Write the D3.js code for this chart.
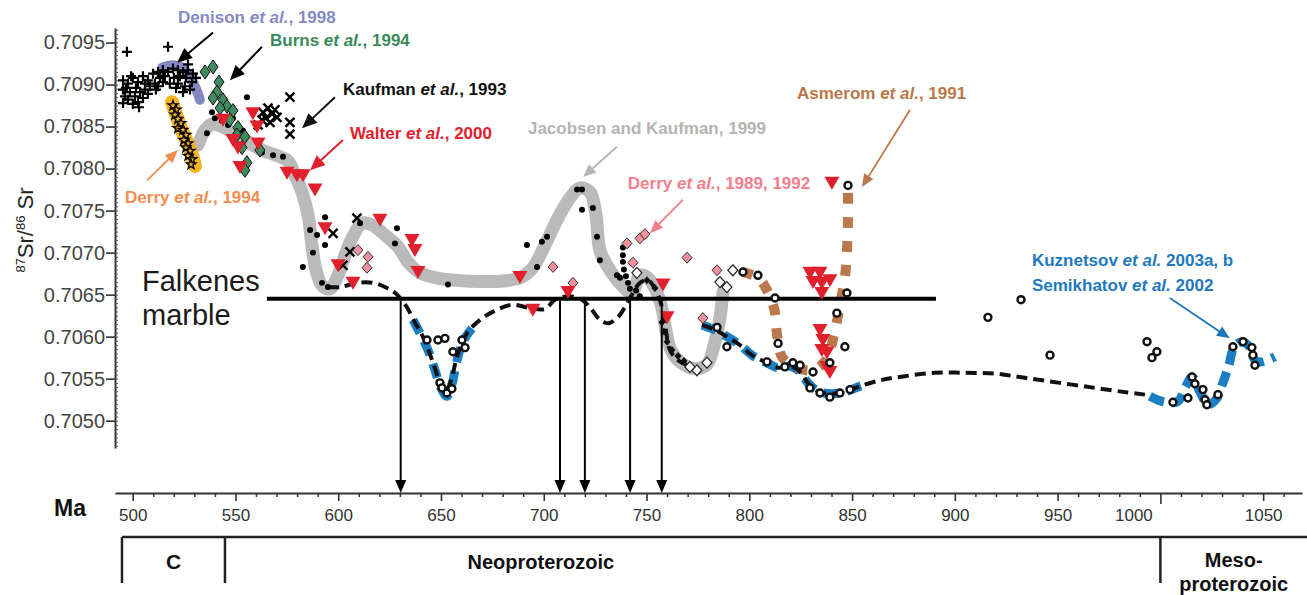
<!DOCTYPE html>
<html><head><meta charset="utf-8">
<script src="https://cdn.jsdelivr.net/npm/d3@7"></script>
<style>
html,body{margin:0;padding:0;background:#fff;}
svg{display:block;font-family:"Liberation Sans",Arial,sans-serif;}
</style></head><body>
<svg id="c" width="1307" height="595"></svg>
<script>
// ---------------- DATA (Ma, 87Sr/86Sr) ----------------
const xTicks = [500,550,600,650,700,750,800,850,900,950,1000,1050];
const yTicks = [0.7050,0.7055,0.7060,0.7065,0.7070,0.7075,0.7080,0.7085,0.7090,0.7095];
const eraEdges = [494.8, 544.9, 1000];

const plusPts = [[497.2,0.70939],[517.2,0.70945],[495.3,0.70905],[497.7,0.70901],[500.1,0.70908],[502.6,0.70903],[505.0,0.70910],[507.4,0.70905],[509.9,0.70913],[512.3,0.70915],[514.7,0.70917],[517.2,0.70915],[519.6,0.70919],[522.0,0.70917],[524.5,0.70915],[526.9,0.70917],[529.3,0.70913],[525.9,0.70908],[523.0,0.70910],[520.1,0.70908],[513.3,0.70908],[508.4,0.70898],[506.0,0.70894],[503.6,0.70891],[501.1,0.70886],[498.7,0.70891],[496.3,0.70886],[495.3,0.70894],[497.7,0.70882],[500.1,0.70877],[502.6,0.70879],[505.0,0.70884],[507.4,0.70889],[510.8,0.70901],[514.7,0.70903],[518.1,0.70901],[522.0,0.70901],[525.4,0.70898],[528.8,0.70903],[530.8,0.70908],[527.9,0.70894],[524.5,0.70891],[521.1,0.70896],[496.7,0.70896],[501.6,0.70896],[511.3,0.70894],[515.7,0.70910],[506.0,0.70901],[495.3,0.70878],[503.1,0.70873],[499.2,0.70910],[512.3,0.70898],[526.9,0.70924]];
const starPts = [[519.6,0.70875],[521.1,0.70870],[520.6,0.70864],[522.0,0.70859],[523.5,0.70854],[522.0,0.70848],[524.5,0.70846],[525.9,0.70840],[524.9,0.70834],[526.9,0.70830],[525.9,0.70825],[527.9,0.70821],[526.9,0.70815],[528.8,0.70811],[528.4,0.70805]];
const derry94Band = [[519.1,0.70879],[521.1,0.70864],[523.5,0.70848],[526.4,0.70832],[528.8,0.70816],[530.3,0.70803]];
const denisonBand = [[514.3,0.70920],[519.1,0.70923],[524.0,0.70920],[527.9,0.70909],[530.8,0.70895],[532.7,0.70882]];
const jkBand = [[531.8,0.70828],[535.2,0.70846],[538.6,0.70853],[543.4,0.70850],[549.8,0.70841],[557.1,0.70830],[562.9,0.70822],[570.7,0.70815],[575.6,0.70809],[579.0,0.70792],[582.4,0.70772],[585.3,0.70745],[587.2,0.70709],[589.2,0.70679],[592.1,0.70661],[596.0,0.70657],[599.9,0.70673],[603.3,0.70697],[606.7,0.70717],[611.6,0.70735],[616.4,0.70733],[622.7,0.70721],[629.1,0.70707],[633.9,0.70689],[639.8,0.70676],[649.5,0.70669],[664.1,0.70666],[678.7,0.70666],[688.4,0.70670],[694.7,0.70682],[700.6,0.70709],[706.9,0.70741],[712.7,0.70765],[717.6,0.70777],[722.5,0.70772],[725.4,0.70745],[727.3,0.70703],[732.2,0.70679],[738.0,0.70661],[742.9,0.70652],[746.8,0.70673],[750.7,0.70670],[754.6,0.70655],[757.5,0.70634],[759.4,0.70608],[761.9,0.70584],[766.3,0.70570],[773.6,0.70562],[779.4,0.70567],[783.3,0.70594],[785.7,0.70622],[787.2,0.70653]];
const jkDots = [[536.1,0.70842],[538.6,0.70867],[555.6,0.70885],[562.9,0.70819],[568.3,0.70816],[573.1,0.70814],[540.0,0.70860],[543.4,0.70857],[546.4,0.70852],[548.8,0.70860],[551.2,0.70848],[553.7,0.70845],[593.6,0.70742],[586.3,0.70727],[589.7,0.70721],[593.6,0.70709],[587.7,0.70700],[582.8,0.70683],[592.1,0.70664],[595.0,0.70659],[610.6,0.70735],[627.6,0.70711],[628.6,0.70729],[653.4,0.70662],[691.8,0.70709],[696.7,0.70683],[699.1,0.70713],[701.6,0.70719],[716.2,0.70775],[718.6,0.70775],[718.6,0.70751],[723.9,0.70753],[725.9,0.70719],[727.3,0.70691],[735.6,0.70673],[737.1,0.70670],[738.5,0.70706],[738.5,0.70697],[738.5,0.70689],[739.0,0.70680],[740.0,0.70672],[741.0,0.70664],[741.9,0.70657],[744.9,0.70655],[746.8,0.70648]];
const burnsPts = [[535.2,0.70915],[539.1,0.70921],[542.0,0.70903],[541.0,0.70891],[539.1,0.70884],[543.9,0.70882],[545.9,0.70874],[548.8,0.70869],[542.5,0.70872],[547.3,0.70858],[551.2,0.70849],[550.7,0.70840],[554.6,0.70838],[553.2,0.70825],[555.6,0.70807],[554.6,0.70798],[561.9,0.70822]];
const kaufmanPts = [[576.5,0.70885],[576.5,0.70855],[576.5,0.70841],[563.4,0.70867],[565.8,0.70872],[567.8,0.70865],[564.8,0.70860],[569.2,0.70870],[566.8,0.70855],[562.9,0.70858],[570.2,0.70861],[561.0,0.70852],[609.1,0.70741],[597.5,0.70723],[605.7,0.70701],[602.3,0.70685]];
const walterPts = [[543.9,0.70858],[548.8,0.70834],[552.2,0.70802],[558.5,0.70866],[560.5,0.70850],[561.0,0.70830],[551.2,0.70825],[575.1,0.70795],[579.9,0.70792],[582.9,0.70792],[588.7,0.70775],[593.6,0.70729],[599.9,0.70685],[607.2,0.70664],[620.3,0.70739],[635.9,0.70715],[637.3,0.70703],[638.8,0.70677],[688.4,0.70671],[711.8,0.70653],[694.7,0.70632],[758.0,0.70662],[760.0,0.70623],[829.5,0.70676],[834.4,0.70676],[831.0,0.70665],[835.3,0.70664],[839.2,0.70667],[835.3,0.70652],[834.4,0.70608],[835.8,0.70596],[835.3,0.70584],[837.8,0.70581],[837.8,0.70564],[839.2,0.70558],[840.2,0.70783]];
const derry89Pts = [[609.6,0.70703],[614.5,0.70695],[614.0,0.70682],[704.5,0.70683],[714.2,0.70664],[740.5,0.70711],[746.8,0.70717],[749.2,0.70722],[743.4,0.70688],[769.7,0.70694],[784.3,0.70679],[777.4,0.70622]];
const openDiamondPts = [[792.0,0.70679],[785.7,0.70665],[789.1,0.70659],[745.3,0.70676],[774.5,0.70560],[779.4,0.70569],[771.1,0.70564]];
const blackDiamondPts = [[750.2,0.70667],[754.1,0.70658],[757.5,0.70617],[758.5,0.70606],[760.0,0.70594],[762.4,0.70584],[765.3,0.70577],[768.2,0.70571]];
const kuzCircles = [[643.2,0.70596],[648.5,0.70596],[651.9,0.70598],[655.8,0.70582],[660.2,0.70596],[661.7,0.70587],[649.5,0.70545],[650.5,0.70539],[652.9,0.70533],[655.3,0.70538],
  [784.3,0.70611],[789.1,0.70588],[796.9,0.70677],[804.2,0.70673],[812.5,0.70646],[814.0,0.70592],[817.3,0.70564],[821.2,0.70569],[831.0,0.70558],[808.6,0.70570],[829.5,0.70539],[834.4,0.70533],[839.2,0.70528],[844.1,0.70533],[849.0,0.70537],[839.2,0.70569],[846.5,0.70588],[842.6,0.70628],[847.5,0.70652],[848.0,0.70780],[824.7,0.70566],
  [916.1,0.70623],[932.2,0.70644],[946.3,0.70578],[993.5,0.70594],[998.3,0.70582],[995.9,0.70575],[1006.1,0.70522],[1013.4,0.70527],[1015.4,0.70552],[1016.8,0.70544],[1020.7,0.70537],[1021.7,0.70525],[1022.6,0.70519],[1028.0,0.70531],[1035.3,0.70588],[1040.2,0.70594],[1044.5,0.70587],[1045.0,0.70578],[1046.0,0.70566]];
const dashedCurveA = [[595.0,0.70659],[600.9,0.70659],[609.1,0.70664],[616.9,0.70664],[623.7,0.70658],[628.6,0.70650],[633.4,0.70635],[637.3,0.70617],[641.2,0.70600],[645.1,0.70576],[648.5,0.70552],[651.9,0.70533],[654.9,0.70548],[657.8,0.70576],[662.6,0.70604],[669.0,0.70620],[677.2,0.70632],[685.0,0.70638],[693.3,0.70634],[700.6,0.70633],[705.4,0.70644],[711.8,0.70648],[718.6,0.70644],[723.4,0.70632],[727.3,0.70620],[731.2,0.70616],[735.6,0.70622],[739.5,0.70635],[742.9,0.70650],[746.8,0.70664],[750.7,0.70667],[754.6,0.70655],[757.5,0.70635],[759.4,0.70608],[761.4,0.70584],[765.8,0.70571],[772.1,0.70564]];
const dashedCurveB = [[777.0,0.70614],[783.3,0.70608],[789.1,0.70600],[795.5,0.70590],[801.3,0.70578],[807.6,0.70570],[814.0,0.70563],[819.8,0.70565],[824.7,0.70558],[828.5,0.70545],[833.4,0.70535],[840.2,0.70532],[847.5,0.70535],[853.8,0.70541],[863.6,0.70548],[875.7,0.70553],[890.3,0.70557],[904.9,0.70557],[919.5,0.70556],[934.1,0.70551],[951.1,0.70545],[968.2,0.70539],[982.7,0.70534],[992.5,0.70531]];
const kuzBlueV = [[636.4,0.70620],[639.8,0.70604],[643.7,0.70584],[647.1,0.70560],[650.0,0.70539],[652.9,0.70529],[655.3,0.70543],[657.3,0.70566],[659.2,0.70584],[662.1,0.70600],[665.1,0.70610]];
const kuzBlueMid = [[777.0,0.70614],[783.3,0.70608],[789.1,0.70600],[795.5,0.70590],[801.3,0.70578],[807.6,0.70570],[814.0,0.70563],[819.8,0.70565],[824.7,0.70558],[828.5,0.70545],[833.4,0.70535],[840.2,0.70532],[847.5,0.70535],[853.8,0.70541],[858.7,0.70545]];
const kuzBlueRight = [[994.9,0.70529],[1002.2,0.70522],[1008.5,0.70523],[1012.4,0.70541],[1015.4,0.70552],[1019.3,0.70534],[1023.1,0.70519],[1027.0,0.70525],[1030.4,0.70545],[1033.3,0.70566],[1035.8,0.70587],[1039.7,0.70594],[1043.6,0.70587],[1046.0,0.70572],[1049.4,0.70570],[1055.7,0.70576]];
const asmeromCurve = [[796.4,0.70677],[804.2,0.70670],[809.1,0.70653],[812.5,0.70629],[813.5,0.70602],[815.9,0.70576],[822.2,0.70564],[830.5,0.70560],[837.3,0.70572],[841.2,0.70602],[844.1,0.70638],[846.5,0.70670],[847.5,0.70703],[848.0,0.70739],[848.0,0.70775]];
const falkenesSr = 0.70645;
const falkenesRange = [565.3, 890.8];
const falkenesAges = [630.4, 707.9, 720.0, 742.0, 757.4];

// labels: [text parts], anchor (Ma,Sr), arrow from/to (Ma,Sr)
const labels = [
  {parts:[["Denison ",0],["et al.",1],[", 1998",0]], at:[522.0,0.70973], arrow:[[539.1,0.70962],[521.6,0.70926]], key:"denison"},
  {parts:[["Burns ",0],["et al.",1],[", 1994",0]], at:[566.8,0.70946], arrow:[[562.9,0.70945],[547.3,0.70905]], key:"burns"},
  {parts:[["Kaufman ",0],["et al.",1],[", 1993",0]], at:[602.3,0.70888], arrow:[[598.4,0.70885],[582.4,0.70848]], key:"kaufman"},
  {parts:[["Walter ",0],["et al.",1],[", 2000",0]], at:[605.7,0.70835], arrow:[[602.3,0.70834],[586.3,0.70798]], key:"walter"},
  {parts:[["Jacobsen and Kaufman, 1999",0]], at:[692.3,0.70841], arrow:[[735.6,0.70826],[719.1,0.70790]], key:"jk"},
  {parts:[["Derry ",0],["et al.",1],[", 1989, 1992",0]], at:[740.9,0.70776], arrow:[[767.7,0.70763],[751.7,0.70723]], key:"derry89"},
  {parts:[["Asmerom ",0],["et al.",1],[", 1991",0]], at:[823.2,0.70883], arrow:[[878.2,0.70870],[854.8,0.70778]], key:"asmerom"},
  {parts:[["Derry ",0],["et al.",1],[", 1994",0]], at:[496.3,0.70759], arrow:[[507.0,0.70786],[522.0,0.70822]], key:"derry94"},
  {parts:[["Kuznetsov ",0],["et al.",1],[" 2003a, b",0]], at:[937.5,0.70684], arrow:[[1004.6,0.70646],[1033.8,0.70598]], key:"kuz"},
  {parts:[["Semikhatov ",0],["et al.",1],[" 2002",0]], at:[937.5,0.70654], arrow:null, key:"kuz"}
];

// ---------------- STYLES ----------------
const col = {
  denison:"#8489c4", burns:"#3b8a5b", kaufman:"#111111", walter:"#e1202d", jk:"#b4b4b4",
  derry89:"#f2808c", asmerom:"#b8784b", derry94:"#f28d4f", kuz:"#1f78be",
  band:"#bababa", orange:"#f6b322", pink:"#f0919b", green:"#3f8b5d", blue:"#1c7ec3", brown:"#b9794c"
};

const svg = d3.select("#c");
const x = d3.scaleLinear().domain([491.4,1068.9]).range([115,1302]);
const y = d3.scaleLinear().domain([0.704675,0.709673]).range([448,28]);
const axisY = 493;

const line = d3.line().x(d=>x(d[0])).y(d=>y(d[1])).curve(d3.curveCatmullRom.alpha(0.5));
const gLines = svg.append("g");

function band(data, color, w, dash){
  const p = gLines.append("path").attr("d", line(data)).attr("fill","none")
    .attr("stroke", color).attr("stroke-width", w).attr("stroke-linejoin","round");
  if(dash){ p.attr("stroke-dasharray", dash).attr("stroke-linecap","butt"); }
  else p.attr("stroke-linecap","round");
  return p;
}
band(jkBand, col.band, 13);
band(denisonBand, col.denison, 10);
band(derry94Band, col.orange, 14);
band(kuzBlueV, col.blue, 9, "15,9");
band(kuzBlueMid, col.blue, 9, "15,9");
band(kuzBlueRight, col.blue, 9, "15,8");
band(asmeromCurve, col.brown, 10, "11,13");
band(dashedCurveA, "#111", 4, "11,6");
band(dashedCurveB, "#111", 4, "11,6");

// Falkenes line
svg.append("line").attr("x1",x(falkenesRange[0])).attr("x2",x(falkenesRange[1]))
  .attr("y1",y(falkenesSr)).attr("y2",y(falkenesSr)).attr("stroke","#000").attr("stroke-width",4);

// markers
const gM = svg.append("g");
function pts(data, pathD, attrs){
  const s = gM.append("g").selectAll("path").data(data).join("path")
    .attr("transform", d=>`translate(${x(d[0])},${y(d[1])})`).attr("d", pathD);
  for(const k in attrs) s.attr(k, attrs[k]);
}
pts(plusPts, "M-5,0H5M0,-5V5", {stroke:"#000","stroke-width":2.2, fill:"none"});
pts(starPts, d3.symbol(d3.symbolStar, 30)(), {stroke:"#000","stroke-width":1.3, fill:"#f6b322"});
pts(jkDots, d3.symbol(d3.symbolCircle, 28)(), {fill:"#000"});
pts(burnsPts, "M0,-7L5,0L0,7L-5,0Z", {fill:col.green, stroke:"#111","stroke-width":1});
pts(kaufmanPts, "M-4.5,-4.5L4.5,4.5M4.5,-4.5L-4.5,4.5", {stroke:"#000","stroke-width":2.4, fill:"none"});
pts(derry89Pts, "M0,-5.5L5,0L0,5.5L-5,0Z", {fill:col.pink, stroke:"#333","stroke-width":1});
pts(openDiamondPts, "M0,-5.5L5,0L0,5.5L-5,0Z", {fill:"#fff", stroke:"#222","stroke-width":1.2});
pts(blackDiamondPts, "M0,-4L3.5,0L0,4L-3.5,0Z", {fill:"#111"});
pts(walterPts, "M-7.5,-6L7.5,-6L0,7Z", {fill:col.walter});
pts(kuzCircles, "M3.5,0A3.5,3.5,0,1,1,-3.5,0A3.5,3.5,0,1,1,3.5,0Z", {fill:"#fff", stroke:"#111","stroke-width":2.4});

// arrow helper
function arrow(g, p1, p2, color, w, hl, hw){
  const x1=p1[0], y1=p1[1], x2=p2[0], y2=p2[1];
  const a = Math.atan2(y2-y1, x2-x1);
  const bx = x2-hl*Math.cos(a), by = y2-hl*Math.sin(a);
  g.append("line").attr("x1",x1).attr("y1",y1).attr("x2",bx+Math.cos(a)).attr("y2",by+Math.sin(a))
    .attr("stroke",color).attr("stroke-width",w);
  const nx = -Math.sin(a)*hw/2, ny = Math.cos(a)*hw/2;
  g.append("path").attr("d",`M${x2},${y2}L${bx+nx},${by+ny}L${bx-nx},${by-ny}Z`).attr("fill",color);
}

// vertical arrows from Falkenes line to the axis
const gA = svg.append("g");
falkenesAges.forEach(a=>{
  arrow(gA, [x(a), y(falkenesSr)+2], [x(a), axisY], "#000", 2, 13, 11);
});

// axes
const gx = svg.append("g").attr("transform",`translate(0,${axisY})`);
const minorX = d3.range(510,1061,10).filter(v=>v%50!==0);
gx.call(d3.axisBottom(x).tickValues(minorX).tickSize(4).tickFormat("").tickSizeOuter(0));
gx.select(".domain").attr("stroke","#333").attr("stroke-width",2);
gx.selectAll(".tick line").attr("stroke","#333").attr("stroke-width",1.5);
const gx2 = svg.append("g").attr("transform",`translate(0,${axisY})`);
gx2.call(d3.axisBottom(x).tickValues(xTicks).tickSize(8).tickPadding(8).tickFormat(d3.format("d")));
gx2.select(".domain").remove();
gx2.selectAll(".tick line").attr("stroke","#333").attr("stroke-width",1.6).attr("y2",d=>d===1000?11:8);
gx2.selectAll(".tick text").attr("font-size",17).attr("fill","#333")
  .attr("font-family","'Liberation Sans',Arial,sans-serif").attr("dx",d=>d===1000?-27:0);

const gy = svg.append("g").attr("transform","translate(115,0)");
gy.call(d3.axisLeft(y).tickValues(yTicks).tickSize(9).tickPadding(1).tickFormat(d3.format(".4f")).tickSizeOuter(0));
gy.select(".domain").attr("stroke","#333").attr("stroke-width",2);
gy.selectAll(".tick line").attr("stroke","#333").attr("stroke-width",1.6);
gy.selectAll(".tick text").attr("font-size",20).attr("fill","#444")
  .attr("font-family","'Liberation Sans',Arial,sans-serif");
const yMinor = d3.range(0,100).map(i=>+(0.70470+i*0.00005).toFixed(5)).filter(v=>v<0.70966);
const gy2 = gy.append("g").call(d3.axisRight(y).tickValues(yMinor).tickSize(3).tickFormat(""));
gy2.select(".domain").remove();
gy2.selectAll(".tick line").attr("stroke","#555").attr("stroke-width",1);

// axis titles
svg.append("text").attr("x",70).attr("y",516).attr("text-anchor","middle")
  .attr("font-size",23).attr("font-weight","bold").attr("fill","#111").text("Ma");
const yt = svg.append("text").attr("transform","translate(33,230) rotate(-90)")
  .attr("text-anchor","middle").attr("fill","#222").attr("font-size",22);
yt.append("tspan").attr("font-size",13).attr("dy",-8).text("87");
yt.append("tspan").attr("dy",8).text("Sr/");
yt.append("tspan").attr("font-size",13).attr("dy",-8).text("86");
yt.append("tspan").attr("dy",8).text(" Sr");

// Falkenes label
svg.append("text").attr("x",142).attr("y",291).attr("font-size",29).attr("fill","#1a1a1a").text("Falkenes");
svg.append("text").attr("x",142).attr("y",325).attr("font-size",29).attr("fill","#1a1a1a").text("marble");

// geological time boxes
const gB = svg.append("g").attr("stroke","#222").attr("stroke-width",2.5);
const boxTop = 537, boxBot = 583;
gB.append("line").attr("x1",x(eraEdges[0])).attr("x2",1307).attr("y1",boxTop).attr("y2",boxTop);
eraEdges.forEach(e=>gB.append("line").attr("x1",x(e)).attr("x2",x(e)).attr("y1",boxTop).attr("y2",boxBot));
const eraText = (tx,ty,t,fs)=>svg.append("text").attr("x",tx).attr("y",ty).attr("text-anchor","middle")
  .attr("font-size",fs).attr("font-weight","bold").attr("fill","#111").text(t);
eraText((x(eraEdges[0])+x(eraEdges[1]))/2, 569, "C", 21);
eraText(x(698.6), 569, "Neoproterozoic", 20);
eraText((x(eraEdges[2])+1307)/2, 567, "Meso-", 20);
eraText((x(eraEdges[2])+1307)/2, 591, "proterozoic", 20);

// labels with arrows
const gL = svg.append("g");
labels.forEach(l=>{
  const t = gL.append("text").attr("x",x(l.at[0])).attr("y",y(l.at[1]))
    .attr("font-size",17).attr("font-weight","bold").attr("fill",col[l.key]);
  l.parts.forEach(p=>t.append("tspan").attr("font-style",p[1]?"italic":"normal").text(p[0]));
  if(l.arrow){
    const c = col[l.key];
    const thin = (l.key==="jk"||l.key==="derry89"||l.key==="asmerom"||l.key==="derry94"||l.key==="kuz");
    arrow(gL, [x(l.arrow[0][0]),y(l.arrow[0][1])], [x(l.arrow[1][0]),y(l.arrow[1][1])],
      l.key==="denison"||l.key==="burns"?"#000":c, thin?1.8:2, thin?13:15, thin?11:13);
  }
});
</script>
</body></html>
